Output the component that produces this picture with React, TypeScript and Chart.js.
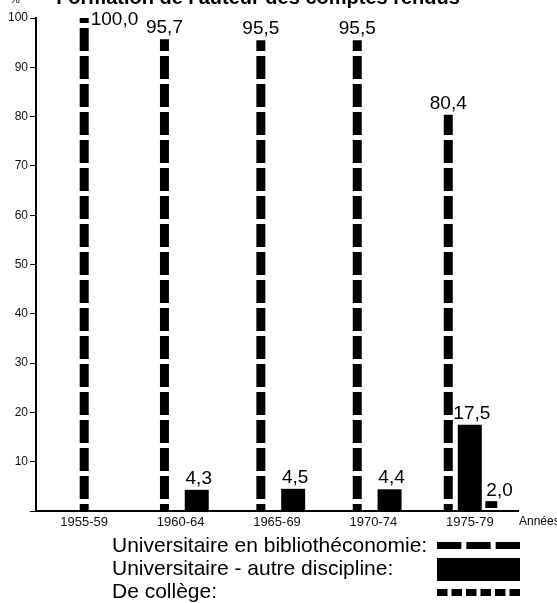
import React, { useEffect, useRef } from 'react';
import { Chart, registerables } from 'chart.js';

Chart.register(...registerables);

const categories = ['1955-59', '1960-64', '1965-69', '1970-74', '1975-79'];
const bibliotheconomie = [100.0, 95.7, 95.5, 95.5, 80.4];
const autreDiscipline = [null, 4.3, 4.5, 4.4, 17.5];
const college = [null, null, null, null, 2.0];
const seriesNames = [
  'Universitaire en bibliothéconomie:',
  'Universitaire - autre discipline:',
  'De collège:',
];
const yTicks = [10, 20, 30, 40, 50, 60, 70, 80, 90, 100];
const titleText = "Formation de l'auteur des comptes rendus";
const unitLabel = '%';
const xAxisLabel = 'Années';

const FONT = '"Liberation Sans", Arial, Helvetica, sans-serif';

function fmt(v: number): string {
  return v.toFixed(1).replace('.', ',');
}

function makeStripe(ctx: CanvasRenderingContext2D, period: number, on: number) {
  const c = document.createElement('canvas');
  c.width = 4;
  c.height = period;
  const g = c.getContext('2d')!;
  g.fillStyle = '#000';
  g.fillRect(0, 0, 4, on);
  return ctx.createPattern(c, 'repeat')!;
}

const decorPlugin = {
  id: 'decor',
  afterDatasetsDraw(chart: any) {
    const ctx: CanvasRenderingContext2D = chart.ctx;
    ctx.save();
    ctx.fillStyle = '#000';
    ctx.font = `19px ${FONT}`;
    chart.data.datasets.forEach((ds: any, di: number) => {
      const meta = chart.getDatasetMeta(di);
      meta.data.forEach((el: any, i: number) => {
        const v = ds.data[i];
        if (v == null) return;
        const { x, y, width } = el.getProps(['x', 'y', 'width'], true);
        const txt = fmt(v);
        if (v >= 99.95) {
          ctx.textAlign = 'left';
          ctx.textBaseline = 'middle';
          ctx.fillText(txt, x + width / 2 + 2, y + 2);
        } else if (di === 2) {
          ctx.textAlign = 'left';
          ctx.textBaseline = 'alphabetic';
          ctx.fillText(txt, x - width / 2 + 1, y - 5);
        } else {
          ctx.textAlign = 'center';
          ctx.textBaseline = 'alphabetic';
          ctx.fillText(txt, x + (di === 1 ? 2 : 0), y - 6);
        }
      });
    });
    ctx.restore();
  },
  afterDraw(chart: any) {
    const ctx: CanvasRenderingContext2D = chart.ctx;
    const area = chart.chartArea;
    ctx.save();
    ctx.fillStyle = '#000';
    // title (cut at top of picture)
    ctx.font = `bold 20px ${FONT}`;
    ctx.textAlign = 'center';
    ctx.textBaseline = 'alphabetic';
    ctx.fillText(titleText, 258, 4);
    // unit
    ctx.font = `11px ${FONT}`;
    ctx.textAlign = 'left';
    ctx.fillText(unitLabel, 10, 3);
    // axis label
    ctx.font = `12px ${FONT}`;
    ctx.textAlign = 'left';
    ctx.textBaseline = 'middle';
    ctx.fillText(xAxisLabel, area.right + 1, area.bottom + 11);

    // legend
    const textX = 112;
    const swL = 437;
    const swR = 520;
    const rows = [546, 569, 592];
    ctx.font = `21px ${FONT}`;
    ctx.textAlign = 'left';
    ctx.textBaseline = 'middle';
    seriesNames.forEach((name, k) => ctx.fillText(name, textX, rows[k]));
    // swatch 1: long dashes
    const n1 = 3, g1 = 5;
    const w1 = (swR - swL - g1 * (n1 - 1)) / n1;
    for (let k = 0; k < n1; k++) ctx.fillRect(swL + k * (w1 + g1), rows[0] - 4, w1, 7);
    // swatch 2: solid block
    ctx.fillRect(swL, rows[1] - 11, swR - swL, 23);
    // swatch 3: short dashes
    const n3 = 6, g3 = 4;
    const w3 = (swR - swL - g3 * (n3 - 1)) / n3;
    for (let k = 0; k < n3; k++) ctx.fillRect(swL + k * (w3 + g3), rows[2] - 3, w3, 7);
    ctx.restore();
  },
};

export default function App() {
  const ref = useRef<HTMLCanvasElement | null>(null);
  useEffect(() => {
    const canvas = ref.current!;
    const ctx = canvas.getContext('2d')!;
    const longDash = makeStripe(ctx, 28, 23);
    const shortDash = makeStripe(ctx, 10, 8);
    const chart = new Chart(canvas, {
      type: 'bar',
      data: {
        labels: categories,
        datasets: [
          {
            label: seriesNames[0],
            data: bibliotheconomie,
            backgroundColor: longDash,
            maxBarThickness: 9,
            skipNull: true,
          },
          {
            label: seriesNames[1],
            data: autreDiscipline,
            backgroundColor: '#000',
            maxBarThickness: 24,
            skipNull: true,
          },
          {
            label: seriesNames[2],
            data: college,
            backgroundColor: shortDash,
            maxBarThickness: 12,
            skipNull: true,
          },
        ] as any,
      },
      options: {
        animation: false,
        responsive: false,
        devicePixelRatio: 1,
        categoryPercentage: 0.67,
        barPercentage: 1.5,
        layout: { padding: { top: 18, bottom: 72, left: 0, right: 39 } },
        plugins: {
          legend: { display: false },
          tooltip: { enabled: false },
          title: { display: false },
        },
        scales: {
          x: {
            grid: { display: true, drawOnChartArea: false, drawTicks: false },
            border: { display: true, color: '#000', width: 2 },
            ticks: {
              color: '#111',
              font: { family: FONT, size: 13 },
              padding: 4,
              maxRotation: 0,
            },
            afterFit: (s: any) => {
              s.height = 20;
            },
          },
          y: {
            min: 0,
            max: 100,
            grid: {
              display: true,
              drawOnChartArea: false,
              drawTicks: true,
              tickLength: 6,
              tickColor: '#000',
              tickWidth: 1,
            },
            border: { display: true, color: '#000', width: 2 },
            afterBuildTicks: (s: any) => {
              s.ticks = [0, ...yTicks].map((v) => ({ value: v }));
            },
            ticks: {
              color: '#111',
              font: { family: FONT, size: 12 },
              padding: 2,
              callback: (v: any) => (v === 0 ? '' : String(v)),
            },
            afterFit: (s: any) => {
              s.width = 36;
            },
          },
        },
      } as any,
      plugins: [decorPlugin],
    });
    return () => chart.destroy();
  }, []);
  return (
    <div style={{ position: 'absolute', left: 0, top: 0, width: 557, height: 603, background: '#fff' }}>
      <canvas ref={ref} width={557} height={603} style={{ display: 'block' }} />
    </div>
  );
}
